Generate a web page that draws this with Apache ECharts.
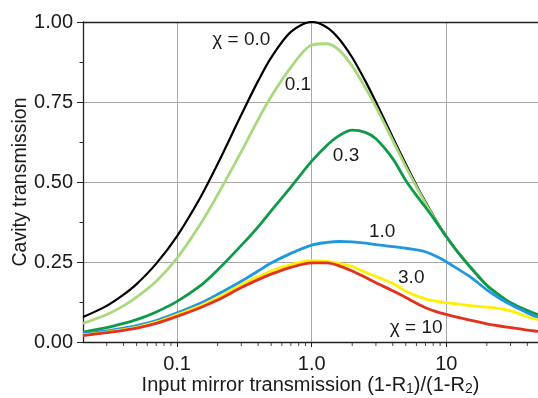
<!DOCTYPE html>
<html>
<head>
<meta charset="utf-8">
<script src="https://cdn.jsdelivr.net/npm/echarts@6/dist/echarts.min.js"></script>
<style>
html,body{margin:0;padding:0;background:#fff;}
#c{width:538px;height:398px;}
</style>
</head>
<body>
<div id="c"></div>
<script>
// ratio (1-R1)/(1-R2)
var X = [0.02, 0.03, 0.04, 0.05, 0.07, 0.1, 0.15, 0.2, 0.3, 0.4, 0.5, 0.7, 1.0, 1.3, 1.6, 2.0, 2.5, 3.0, 4.0, 5.0, 6.0, 7.0, 8.0, 9.0, 10, 12, 15, 20, 25, 30, 40, 48];
var chi00 = [0.078,0.113,0.148,0.181,0.245,0.331,0.454,0.556,0.710,0.816,0.889,0.969,1.000,0.983,0.947,0.889,0.816,0.750,0.640,0.556,0.490,0.438,0.395,0.360,0.331,0.285,0.236,0.177,0.145,0.123,0.098,0.085];
var chi01 = [0.058,0.086,0.113,0.140,0.190,0.262,0.370,0.460,0.595,0.695,0.767,0.858,0.928,0.932,0.912,0.862,0.795,0.735,0.630,0.548,0.485,0.434,0.392,0.358,0.329,0.284,0.235,0.177,0.145,0.123,0.098,0.085];
var chi03 = [0.031,0.045,0.058,0.070,0.094,0.127,0.177,0.225,0.302,0.360,0.410,0.484,0.565,0.615,0.645,0.662,0.655,0.635,0.573,0.505,0.458,0.421,0.388,0.357,0.329,0.284,0.235,0.177,0.145,0.123,0.098,0.085];
var chi10 = [0.027,0.035,0.043,0.051,0.067,0.091,0.122,0.149,0.190,0.222,0.247,0.277,0.303,0.311,0.314,0.313,0.309,0.304,0.298,0.293,0.288,0.282,0.272,0.262,0.251,0.230,0.204,0.163,0.136,0.117,0.091,0.076];
var chi30 = [0.022,0.031,0.039,0.046,0.062,0.085,0.114,0.138,0.179,0.204,0.222,0.242,0.254,0.252,0.246,0.236,0.218,0.205,0.183,0.159,0.144,0.135,0.129,0.125,0.123,0.119,0.114,0.109,0.104,0.097,0.079,0.070];
var chi100 = [0.020,0.029,0.036,0.043,0.058,0.080,0.108,0.131,0.170,0.195,0.212,0.233,0.247,0.247,0.238,0.222,0.202,0.185,0.160,0.139,0.121,0.107,0.098,0.091,0.086,0.078,0.068,0.057,0.050,0.045,0.037,0.033];

var seriesNames = ['χ = 0.0', '0.1', '0.3', '1.0', '3.0', 'χ = 10'];
var seriesData = [chi00, chi01, chi03, chi10, chi30, chi100];
var seriesColors = ['#000000', '#a9d97e', '#0f9a4a', '#1f98e0', '#fff000', '#e2321e'];
// annotation anchor points (data coordinates)
var labelX = [0.30, 0.79, 1.80, 3.34, 5.49, 5.98];
var labelY = [0.943, 0.805, 0.583, 0.343, 0.202, 0.046];

var xTickValues = [0.1, 1, 10];
var xTickLabels = ['0.1', '1.0', '10'];
var xMinorTicks = [0.03,0.04,0.05,0.06,0.07,0.08,0.09,0.2,0.3,0.4,0.5,0.6,0.7,0.8,0.9,2,3,4,5,6,7,8,9,20,30,40];
var xMin = 0.02, xMax = 48;

var FONT = 'Liberation Sans, Arial, sans-serif';
var TXT = '#1a1a1a';

var series = seriesData.map(function (vals, i) {
  return {
    type: 'line',
    name: seriesNames[i],
    data: X.map(function (x, k) { return [x, vals[k]]; }),
    showSymbol: false,
    smooth: 0.3,
    lineStyle: { color: seriesColors[i], width: i === 0 ? 2.2 : 2.8 },
    itemStyle: { color: seriesColors[i] },
    z: 3 + i,
    markPoint: {
      symbol: 'circle', symbolSize: 0,
      data: [{ coord: [labelX[i], labelY[i]] }],
      label: { show: true, position: 'inside', formatter: seriesNames[i], color: TXT, fontSize: 19, fontFamily: FONT },
      silent: true
    },
    animation: false
  };
});

series.push({
  type: 'scatter',
  data: xMinorTicks.map(function (x) { return [x, 0]; }),
  symbol: 'rect',
  symbolSize: [1, 4],
  symbolOffset: [0, 2],
  itemStyle: { color: '#222' },
  clip: false,
  silent: true,
  z: 1,
  animation: false
});

function xLabel(v) {
  for (var i = 0; i < xTickValues.length; i++) {
    if (Math.abs(v - xTickValues[i]) / xTickValues[i] < 1e-6) return xTickLabels[i];
  }
  return '';
}

var el = document.getElementById('c');
var chart = echarts.init(el, null, { renderer: 'canvas' });
chart.setOption({
  animation: false,
  backgroundColor: '#fff',
  grid: { left: 83, top: 22, right: 0, bottom: 56, containLabel: false, outerBoundsMode: 'none' },
  xAxis: [{
    type: 'log', logBase: 10, min: xMin, max: xMax,
    axisLine: { show: true, lineStyle: { color: '#222', width: 1.3 } },
    axisTick: { show: true, length: 5, lineStyle: { color: '#222' } },
    axisLabel: { formatter: xLabel, fontSize: 20, color: TXT, fontFamily: FONT, margin: 12, showMinLabel: false, showMaxLabel: false },
    splitLine: { show: true, lineStyle: { color: '#a8a8a8', width: 1 } },
    minorTick: { show: false },
    name: 'Input mirror transmission (1-R{s|1})/(1-R{s|2})',
    nameLocation: 'middle', nameGap: 32, nameMoveOverlap: false,
    nameTextStyle: {
      fontSize: 20, color: TXT, fontFamily: FONT,
      rich: { s: { fontSize: 14, color: TXT, fontFamily: FONT, padding: [8, 0, 0, 0] } }
    }
  }, {
    type: 'log', logBase: 10, min: xMin, max: xMax, position: 'top',
    axisLine: { show: true, lineStyle: { color: '#222', width: 1.3 } },
    axisTick: { show: false }, axisLabel: { show: false }, splitLine: { show: false }
  }],
  yAxis: {
    type: 'value', min: 0, max: 1, interval: 0.25,
    axisLine: { show: true, lineStyle: { color: '#222', width: 1.3 } },
    axisTick: { show: true, length: 6, lineStyle: { color: '#222' } },
    minorTick: { show: true, splitNumber: 2, length: 3.5, lineStyle: { color: '#222' } },
    axisLabel: { formatter: function (v) { return v.toFixed(2); }, fontSize: 20, color: TXT, fontFamily: FONT, margin: 10 },
    splitLine: { show: true, lineStyle: { color: '#a8a8a8', width: 1 } },
    name: 'Cavity transmission', nameLocation: 'middle', nameGap: 52, nameRotate: 90, nameMoveOverlap: false,
    nameTextStyle: { fontSize: 19.5, color: TXT, fontFamily: FONT }
  },
  series: series
});
</script>
</body>
</html>
